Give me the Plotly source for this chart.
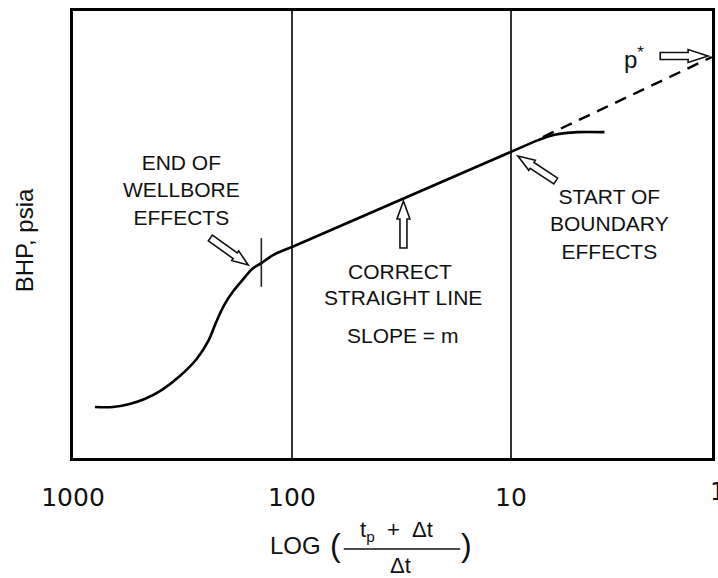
import math
import plotly.graph_objects as go

# Horner buildup plot: log((tp + dt) / dt) decreasing to the right, BHP in psia (schematic)
horner_ticks = [1000, 100, 10]
horner_tick_text = ["1000", "100", "10"]

# Early-time curve distorted by wellbore storage
wellbore_x = [794, 658, 551, 471, 394, 326, 273, 241, 222, 204, 185, 167, 152, 138, 122, 100]
wellbore_y = [11.4, 11.4, 12.1, 13.2, 15.2, 18.3, 22.1, 26.2, 30.4, 34.2, 37.4, 40.0, 42.3, 43.6, 45.4, 47.2]

# Middle-time semilog straight line (slope = m)
straight_x = [100, 10, 7.54]
straight_y = [47.2, 68.5, 71.1]

# Late-time bend caused by boundaries
boundary_x = [7.54, 6.31, 4.96, 3.74]
boundary_y = [71.1, 72.3, 72.9, 72.9]

# Extrapolation of the straight line towards p*
extrap_x = [7.15, 1.21]
extrap_y = [71.8, 89.7]

# Marker at the end of wellbore effects
wb_end_x = [138, 138]
wb_end_y = [38.3, 49.2]

W, H = 718, 578
L, R, T, B = 73, 715, 11, 458
DECADE_PX = 220.0
x_range = [3, 3 - (R - L) / DECADE_PX]

LABEL_FONT = "Liberation Sans, Arial, sans-serif"
INK = "#111111"


def paper(xp, yp):
    return (xp - L) / (R - L), (B - yp) / (B - T)


def arrow_path(tail, tip, body_w, head_w, head_len):
    (x0, y0), (x1, y1) = tail, tip
    dx, dy = x1 - x0, y1 - y0
    n = math.hypot(dx, dy)
    ux, uy = dx / n, dy / n
    nx, ny = -uy, ux
    bx, by = x1 - ux * head_len, y1 - uy * head_len
    pts = [
        (x0 + nx * body_w / 2, y0 + ny * body_w / 2),
        (bx + nx * body_w / 2, by + ny * body_w / 2),
        (bx + nx * head_w / 2, by + ny * head_w / 2),
        (x1, y1),
        (bx - nx * head_w / 2, by - ny * head_w / 2),
        (bx - nx * body_w / 2, by - ny * body_w / 2),
        (x0 - nx * body_w / 2, y0 - ny * body_w / 2),
    ]
    conv = [paper(*p) for p in pts]
    return "M " + " L ".join(f"{a:.5f},{b:.5f}" for a, b in conv) + " Z"


fig = go.Figure()

line_style = dict(color="black", width=2.6)
fig.add_trace(go.Scatter(x=wellbore_x, y=wellbore_y, mode="lines",
                         line=dict(**line_style, shape="spline", smoothing=0.9)))
fig.add_trace(go.Scatter(x=straight_x, y=straight_y, mode="lines", line=line_style))
fig.add_trace(go.Scatter(x=boundary_x, y=boundary_y, mode="lines",
                         line=dict(**line_style, shape="spline", smoothing=0.8)))
fig.add_trace(go.Scatter(x=extrap_x, y=extrap_y, mode="lines",
                         line=dict(color="black", width=2.4, dash="12px,8px")))
fig.add_trace(go.Scatter(x=wb_end_x, y=wb_end_y, mode="lines",
                         line=dict(color="#222222", width=1.6)))

shapes = []
# hollow pointer arrows
for tail, tip, bw, hw, hl in [
    ((211, 238), (249, 265), 7, 12, 16),
    ((405, 248), (405, 201), 7, 13, 18),
    ((558, 181), (520, 156), 7, 12, 17),
    ((663, 56), (711, 56), 7, 13, 20),
]:
    shapes.append(dict(type="path", xref="paper", yref="paper",
                       path=arrow_path(tail, tip, bw, hw, hl),
                       fillcolor="white", line=dict(color="#111111", width=1.6)))

# fraction bar of the x-axis title
fx0, fy = paper(345, 549)
fx1, _ = paper(462, 549)
shapes.append(dict(type="line", xref="paper", yref="paper", x0=fx0, x1=fx1, y0=fy, y1=fy,
                   line=dict(color=INK, width=1.6)))

annotations = []


def note(text, xp, yp, size=21, family=LABEL_FONT, angle=0):
    x, y = paper(xp, yp)
    annotations.append(dict(text=text, x=x, y=y, xref="paper", yref="paper",
                            xanchor="center", yanchor="middle", showarrow=False,
                            textangle=angle, font=dict(family=family, size=size, color=INK)))


note("END OF<br>WELLBORE<br>EFFECTS", 182, 190)
note("CORRECT", 402, 271)
note("STRAIGHT LINE", 405, 298)
note("SLOPE = m", 404, 335)
note("START OF<br>BOUNDARY<br>EFFECTS", 612, 224)
note("p<sup>*</sup>", 637, 58, size=24)
note("1", 721, 492, size=24, family="DejaVu Sans, sans-serif")

# x-axis title: LOG ((tp + dt) / dt)
note("LOG", 297, 545, size=24)
note("(", 337, 545, size=32)
note("t<sub>p</sub>\u00a0\u00a0+\u00a0\u00a0Δt", 398, 531, size=22)
note("Δt", 402, 565, size=22)
note(")", 468, 545, size=32)

# y-axis title
note("BHP, psia", 25, 240, size=24, angle=-90)

fig.update_layout(
    width=W, height=H,
    margin=dict(l=L, r=W - R, t=T, b=H - B, pad=0),
    paper_bgcolor="white", plot_bgcolor="white",
    showlegend=False,
    shapes=shapes,
    annotations=annotations,
    xaxis=dict(type="log", range=x_range, tickvals=horner_ticks, ticktext=horner_tick_text,
               showgrid=True, gridcolor="#333333", gridwidth=1.6,
               showline=True, mirror=True, linecolor="black", linewidth=3,
               ticks="", zeroline=False, ticklabelstandoff=15,
               tickfont=dict(family="DejaVu Sans, sans-serif", size=25, color=INK)),
    yaxis=dict(range=[0, 100], showgrid=False, showticklabels=False, ticks="",
               showline=True, mirror=True, linecolor="black", linewidth=3, zeroline=False),
)

fig.write_html("out.html")
